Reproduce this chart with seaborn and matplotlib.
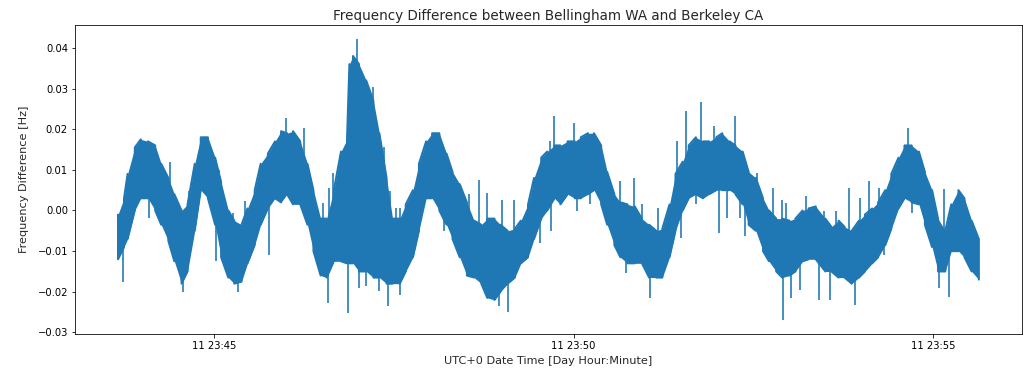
import numpy as np
import pandas as pd
import matplotlib
matplotlib.use("Agg")
import matplotlib.pyplot as plt
import matplotlib.dates as mdates
import seaborn as sns

# Recording start (UTC+0); all times below are seconds from this instant
start = pd.Timestamp("2022-01-11 23:43:40")

# Envelope of the measured frequency difference (Hz) at each sample time
sample_sec = [0, 5, 8, 14, 19, 25, 31, 36, 42, 47, 53, 58, 64, 69, 75, 81, 86, 92, 97, 103,
              108, 114, 119, 125, 131, 136, 141, 146, 152, 158, 163, 169, 174, 180, 186, 191,
              193, 196, 201, 207, 213, 218, 224, 229, 235, 240, 246, 251, 257, 262, 268, 274,
              279, 285, 291, 297, 303, 308, 314, 319, 325, 331, 336, 342, 347, 353, 358, 364,
              369, 375, 381, 386, 392, 397, 403, 408, 414, 419, 425, 431, 437, 443, 449, 454,
              460, 465, 471, 476, 482, 488, 493, 499, 504, 510, 515, 521, 526, 532, 538, 543,
              549, 554, 560, 565, 571, 576, 582, 590, 595, 601, 606, 612, 618, 623, 629, 634,
              640, 645, 651, 656, 662, 668, 673, 679, 684, 690, 695, 701, 706, 712, 718]
upper = [-0.001, 0.003, 0.009, 0.0155, 0.0175, 0.017, 0.016, 0.0115, 0.008, 0.004, 0.000,
         0.0015, 0.0115, 0.018, 0.018, 0.013, 0.007, 0.000, -0.0025, -0.0035, 0.0005, 0.005,
         0.0115, 0.014, 0.017, 0.0195, 0.019, 0.0195, 0.017, 0.0115, 0.005, -0.002, -0.002,
         0.005, 0.0145, 0.0175, 0.036, 0.038, 0.036, 0.032, 0.027, 0.019, 0.008, -0.002,
         -0.002, 0.0015, 0.005, 0.0115, 0.017, 0.019, 0.019, 0.014, 0.0095, 0.0065, 0.002,
         -0.0025, -0.0035, -0.002, -0.002, -0.0035, -0.005, -0.0045, -0.0025, 0.0015, 0.008,
         0.013, 0.0145, 0.016, 0.016, 0.017, 0.017, 0.018, 0.019, 0.019, 0.016, 0.0095,
         0.004, 0.002, 0.0015, 0.001, -0.002, -0.0035, -0.005, -0.0045, 0.0015, 0.009, 0.012,
         0.016, 0.018, 0.017, 0.017, 0.018, 0.019, 0.017, 0.016, 0.0145, 0.0095, 0.008, 0.003,
         0.000, -0.002, -0.002, -0.0025, -0.002, 0.000, 0.0005, 0.001, -0.002, -0.004,
         -0.0025, -0.004, -0.005, -0.0025, -0.001, 0.0005, 0.002, 0.005, 0.009, 0.013, 0.016,
         0.016, 0.0145, 0.0095, 0.005, -0.002, -0.005, 0.0015, 0.005, 0.003, -0.0025, -0.007]
lower = [-0.012, -0.009, -0.007, 0.000, 0.003, 0.003, 0.000, -0.0035, -0.0075, -0.0125,
         -0.018, -0.015, -0.005, 0.005, 0.003, -0.0035, -0.0115, -0.0165, -0.018, -0.0175,
         -0.013, -0.0085, -0.0035, 0.0005, 0.003, 0.002, 0.004, 0.0015, 0.0015, -0.0035,
         -0.010, -0.016, -0.0165, -0.0125, -0.0125, -0.013, -0.013, -0.013, -0.015, -0.015,
         -0.0165, -0.0165, -0.018, -0.018, -0.018, -0.015, -0.0115, -0.005, 0.003, 0.003,
         0.000, -0.0035, -0.007, -0.0115, -0.016, -0.0165, -0.018, -0.0215, -0.022, -0.020,
         -0.018, -0.0165, -0.013, -0.0115, -0.007, -0.002, 0.000, 0.003, 0.0015, 0.004, 0.003,
         0.003, 0.004, 0.005, 0.0015, -0.0035, -0.0085, -0.0115, -0.013, -0.013, -0.013,
         -0.0165, -0.0165, -0.0165, -0.0115, -0.005, 0.000, 0.003, 0.004, 0.003, 0.004, 0.005,
         0.005, 0.005, 0.004, 0.0015, -0.0035, -0.005, -0.010, -0.0125, -0.015, -0.0165,
         -0.016, -0.015, -0.0125, -0.012, -0.012, -0.015, -0.015, -0.0165, -0.0165, -0.018,
         -0.0165, -0.015, -0.013, -0.0115, -0.0085, -0.0045, 0.0005, 0.003, 0.002, 0.0015,
         -0.0035, -0.009, -0.015, -0.015, -0.010, -0.010, -0.0115, -0.015, -0.017]

# Isolated glitches that stand out of the band (time in s, value in Hz)
spike_sec = [4, 26, 43, 54, 59, 82, 84, 96, 100, 106, 126, 140, 155, 171, 175, 176, 179, 192,
             199, 201, 207, 213, 218, 222, 225, 227, 232, 235, 235.5, 272, 293, 301, 308, 318,
             320, 325, 330, 352, 360, 361, 364, 380, 383, 394, 419, 424, 430, 437, 444, 450,
             466, 470, 474, 482, 486, 497, 501, 508, 515, 519, 523, 533, 546, 554, 554.5, 557,
             561, 569, 574, 585, 589, 594, 599, 610, 615, 619, 626, 635, 639, 659, 662, 685,
             689, 693]
spike_val = [-0.0175, -0.0018, 0.012, -0.020, 0.0048, -0.0125, 0.010, -0.0006, -0.020, 0.0023,
             -0.011, 0.0227, 0.0204, 0.0019, -0.0228, 0.0056, 0.0093, -0.0253, 0.0422, -0.019,
             -0.0185, 0.0303, -0.0199, 0.0155, -0.0236, 0.0048, 0.0006, 0.0006, -0.0207,
             -0.0051, 0.004, 0.0076, 0.0043, -0.0236, 0.0027, -0.0249, 0.0027, -0.008, 0.0171,
             -0.0051, 0.0233, 0.0216, -0.0002, 0.0015, 0.0072, -0.0154, 0.008, 0.0015, -0.0216,
             0.0006, 0.0171, -0.0068, 0.0245, 0.0015, 0.0266, 0.0208, -0.0055, -0.0018, 0.0233,
             -0.0018, -0.0063, 0.0093, 0.0056, 0.0027, -0.0269, 0.0019, -0.0216, -0.0195,
             0.0035, -0.022, -0.0002, -0.022, -0.0002, 0.0056, -0.0232, 0.003, 0.0072, 0.0056,
             -0.0109, 0.0202, -0.0006, -0.0191, 0.0052, -0.0212]

LINE = "#1f77b4"

sns.set_style("ticks")
plt.rcParams["font.family"] = ["DejaVu Sans"]
plt.rcParams["axes.edgecolor"] = "black"
plt.rcParams["axes.linewidth"] = 0.8
plt.rcParams["xtick.color"] = "black"
plt.rcParams["ytick.color"] = "black"

fig, ax = plt.subplots(figsize=(1027 / 72, 371 / 72), dpi=72)
fig.subplots_adjust(left=0.073, right=0.995, top=0.933, bottom=0.100)

up = np.array(upper)
lo = np.array(lower)
times = start + pd.to_timedelta(sample_sec, unit="s")

# Trace the noisy signal: at every sample it sweeps across the band
even = np.arange(len(up)) % 2 == 0
zig_t = np.repeat(times.values, 2)
zig_v = np.empty(2 * len(up))
zig_v[0::2] = np.where(even, up, lo)
zig_v[1::2] = np.where(even, lo, up)
trace = pd.DataFrame({"time": zig_t, "freq": zig_v})

ax.fill_between(times, lo, up, color=LINE, linewidth=0)
sns.lineplot(data=trace, x="time", y="freq", estimator=None, sort=False,
             color=LINE, linewidth=2.0, ax=ax)

mid = (up + lo) / 2
spike_times = start + pd.to_timedelta(spike_sec, unit="s")
ax.vlines(spike_times, np.interp(spike_sec, sample_sec, mid), spike_val,
          color=LINE, linewidth=1.6)

ax.xaxis.set_major_locator(mdates.MinuteLocator(byminute=range(0, 60, 5)))
ax.xaxis.set_major_formatter(mdates.DateFormatter("%d %H:%M"))
ax.tick_params(labelsize=10, length=3.5, width=0.8)

ax.set_title("Frequency Difference between Bellingham WA and Berkeley CA", fontsize=13.5, pad=5)
ax.set_xlabel("UTC+0 Date Time [Day Hour:Minute]", fontsize=11.3, labelpad=5)
ax.set_ylabel("Frequency Difference [Hz]", fontsize=11.3, labelpad=8)

fig.savefig("out.png", dpi=72)
